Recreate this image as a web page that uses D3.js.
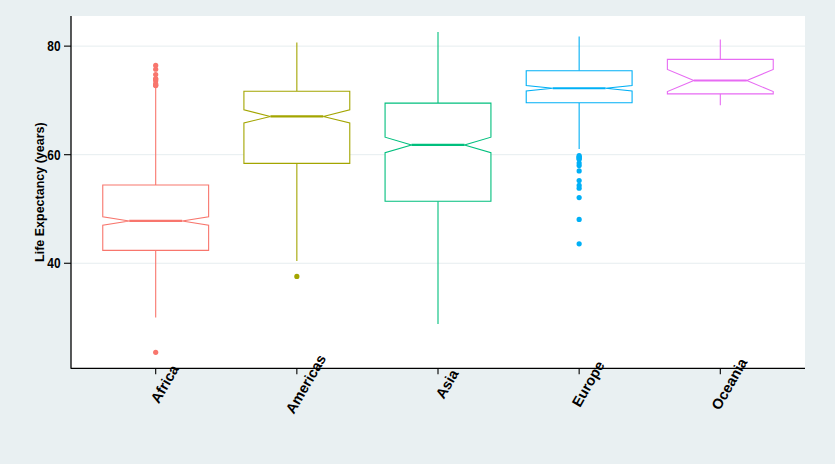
<!DOCTYPE html>
<html>
<head>
<meta charset="utf-8">
<script src="https://cdn.jsdelivr.net/npm/d3@7"></script>
<style>
  html, body { margin: 0; padding: 0; background: #e9f0f2; }
  svg { display: block; }
</style>
</head>
<body>
<svg id="chart" width="835" height="464"></svg>
<script>
// ---- Data (gapminder life expectancy by continent) ----
const regions   = ["Africa", "Americas", "Asia", "Europe", "Oceania"];
const q1        = [42.3725, 58.41, 51.42625, 69.57, 71.205];
const medians   = [47.792, 67.048, 61.7915, 72.241, 73.665];
const q3        = [54.4115, 71.6995, 69.50525, 75.4505, 77.5525];
const whiskerLo = [30.0, 40.414, 28.801, 61.036, 69.12];
const whiskerHi = [72.301, 80.653, 82.603, 81.757, 81.235];
const notchLo   = [47.03, 65.84, 60.36, 71.75, 71.62];
const notchHi   = [48.55, 68.26, 63.23, 72.73, 75.71];
const outliers  = [
  [23.599, 72.737, 72.801, 73.042, 73.615, 73.923, 73.952, 74.772, 75.744, 76.442],
  [37.579],
  [],
  [43.585, 48.079, 52.098, 53.82, 54.336, 55.23, 57.005, 57.996, 58.45, 59.164, 59.28, 59.507, 59.6, 59.82],
  []
];
const colors    = ["#F8766D", "#A3A500", "#00BF7D", "#00B0F6", "#E76BF3"];
const yTicks    = [40, 60, 80];
const yTitle    = "Life Expectancy (years)";

// ---- Layout ----
const W = 835, H = 464;
const panel = { left: 71, right: 805, top: 16, bottom: 368.3 };
const bg = "#e9f0f2";

const svg = d3.select("#chart");
svg.append("rect").attr("width", W).attr("height", H).attr("fill", bg);

const x = d3.scalePoint().domain(regions).range([panel.left, panel.right]).padding(0.6);
const y = d3.scaleLinear().domain([20.65, 85.55]).range([panel.bottom, panel.top]);
const boxW = x.step() * 0.75;

// panel
svg.append("rect")
  .attr("x", panel.left).attr("y", panel.top)
  .attr("width", panel.right - panel.left).attr("height", panel.bottom - panel.top)
  .attr("fill", "#ffffff");

// gridlines
svg.append("g").selectAll("line").data(yTicks).join("line")
  .attr("x1", panel.left).attr("x2", panel.right)
  .attr("y1", d => y(d)).attr("y2", d => y(d))
  .attr("stroke", "#e6edef").attr("stroke-width", 1);

// boxes
const stats = regions.map((r, i) => ({
  r, i, q1: q1[i], med: medians[i], q3: q3[i], lo: whiskerLo[i], hi: whiskerHi[i],
  nlo: notchLo[i], nhi: notchHi[i], out: outliers[i], col: colors[i]
}));

const g = svg.append("g");
stats.forEach(s => {
  const cx = x(s.r);
  const xmin = cx - boxW / 2, xmax = cx + boxW / 2;
  const ind = boxW / 4;
  const grp = g.append("g");
  // whiskers
  grp.append("line").attr("x1", cx).attr("x2", cx)
    .attr("y1", y(s.q3)).attr("y2", y(s.hi))
    .attr("stroke", s.col).attr("stroke-width", 1.1);
  grp.append("line").attr("x1", cx).attr("x2", cx)
    .attr("y1", y(s.q1)).attr("y2", y(s.lo))
    .attr("stroke", s.col).attr("stroke-width", 1.1);
  // notched box
  const pts = [
    [xmin, y(s.q3)], [xmin, y(s.nhi)], [xmin + ind, y(s.med)], [xmin, y(s.nlo)],
    [xmin, y(s.q1)], [xmax, y(s.q1)], [xmax, y(s.nlo)], [xmax - ind, y(s.med)],
    [xmax, y(s.nhi)], [xmax, y(s.q3)]
  ];
  grp.append("path")
    .attr("d", d3.line()(pts) + "Z")
    .attr("fill", "#ffffff").attr("stroke", s.col).attr("stroke-width", 1.1);
  // median
  grp.append("line")
    .attr("x1", xmin + ind).attr("x2", xmax - ind)
    .attr("y1", y(s.med)).attr("y2", y(s.med))
    .attr("stroke", s.col).attr("stroke-width", 2.2);
  // outliers
  grp.selectAll("circle").data(s.out).join("circle")
    .attr("cx", cx).attr("cy", d => y(d)).attr("r", 2.6)
    .attr("fill", s.col);
});

// axes lines
svg.append("line").attr("x1", panel.left).attr("x2", panel.left)
  .attr("y1", panel.top).attr("y2", panel.bottom + 0.5)
  .attr("stroke", "#000").attr("stroke-width", 1.3);
svg.append("line").attr("x1", panel.left).attr("x2", panel.right)
  .attr("y1", panel.bottom).attr("y2", panel.bottom)
  .attr("stroke", "#000").attr("stroke-width", 1.3);

// y ticks
const yAx = svg.append("g");
yTicks.forEach(t => {
  yAx.append("line").attr("x1", panel.left - 7).attr("x2", panel.left)
    .attr("y1", y(t)).attr("y2", y(t)).attr("stroke", "#000").attr("stroke-width", 1.1);
  yAx.append("text")
    .attr("transform", `translate(${panel.left - 10.5},${y(t)}) scale(0.85,1)`)
    .attr("text-anchor", "end").attr("dominant-baseline", "central")
    .attr("font-family", "'Liberation Sans', Arial, sans-serif")
    .attr("font-weight", "bold").attr("font-size", 14).attr("fill", "#000")
    .text(t);
});

// x ticks
const xAx = svg.append("g");
regions.forEach(r => {
  const cx = x(r);
  xAx.append("line").attr("x1", cx).attr("x2", cx)
    .attr("y1", panel.bottom).attr("y2", panel.bottom + 6)
    .attr("stroke", "#000").attr("stroke-width", 1.1);
  xAx.append("text")
    .attr("transform", `translate(${cx + 9},${384}) rotate(-60)`)
    .attr("text-anchor", "middle").attr("dominant-baseline", "central")
    .attr("font-family", "'Liberation Sans', Arial, sans-serif")
    .attr("font-weight", "bold").attr("font-size", 14.5).attr("fill", "#000")
    .text(r);
});

// y title
svg.append("text")
  .attr("transform", `translate(40,${(panel.top + panel.bottom) / 2}) rotate(-90)`)
  .attr("text-anchor", "middle").attr("dominant-baseline", "central")
  .attr("font-family", "'Liberation Sans', Arial, sans-serif")
  .attr("font-weight", "bold").attr("font-size", 12.5).attr("fill", "#000")
  .text(yTitle);
</script>
</body>
</html>
